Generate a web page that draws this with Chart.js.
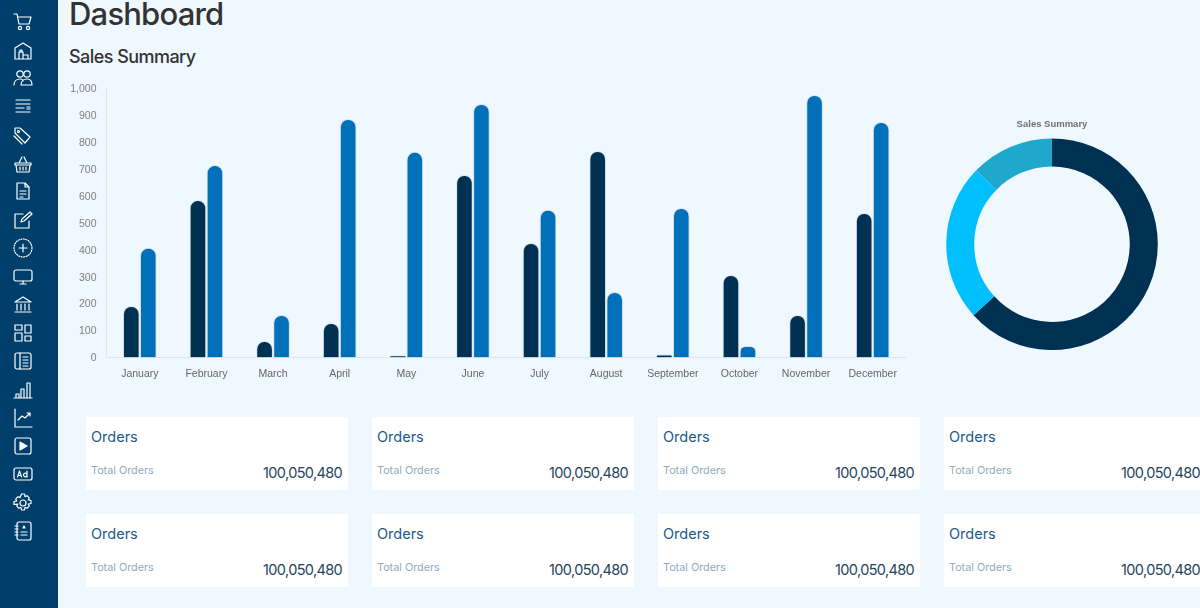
<!DOCTYPE html>
<html>
<head>
<meta charset="utf-8">
<title>Dashboard</title>
<script src="https://cdn.jsdelivr.net/npm/chart.js@4"></script>
<style>
  html, body { margin: 0; padding: 0; width: 1200px; height: 608px; overflow: hidden; background: #eff7ff; }
  body { position: relative; font-family: "Inter", "Noto Sans", sans-serif; }
  #sidebar { position: absolute; left: 0; top: 0; width: 58px; height: 608px; background: #003f6b; }
  #sidebar svg { position: absolute; left: 13px; width: 20px; height: 20px; fill: none; stroke: #fff; stroke-width: 1.2; stroke-linecap: round; stroke-linejoin: round; }
  h1 { position: absolute; left: 69px; top: -6px; margin: 0; font-size: 31px; line-height: 40px; font-weight: 500; letter-spacing: -0.8px; color: #333; }
  h2 { position: absolute; left: 69px; top: 45px; margin: 0; font-size: 18px; line-height: 24px; font-weight: 500; letter-spacing: -0.55px; color: #333; }
  canvas { position: absolute; }
  #barChart { left: 60px; top: 78px; }
  #donutChart { left: 942px; top: 112px; }
  .card { position: absolute; width: 262px; height: 73px; background: #fff; }
  .card .t { position: absolute; left: 5px; top: 11px; font-size: 14.5px; line-height: 18px; color: #1a5a8a; }
  .card .s { position: absolute; left: 5px; top: 46.500px; font-size: 10.8px; line-height: 14px; color: #8fabc2; }
  .card .n { position: absolute; right: 6px; top: 46px; font-size: 14.5px; line-height: 20px; letter-spacing: -0.65px; color: #24455e; }
</style>
</head>
<body>
<div id="sidebar"></div>
<h1>Dashboard</h1>
<h2>Sales Summary</h2>
<canvas id="barChart" width="846" height="310"></canvas>
<canvas id="donutChart" width="220" height="238"></canvas>
<div id="cards"></div>

<script>
// dados do gráfico
const months = ["January", "February", "March", "April", "May", "June", "July", "August", "September", "October", "November", "December"];
const seriesDark = [191, 584, 61, 128, 8, 677, 425, 766, 11, 306, 158, 536];
const seriesBlue = [407, 714, 158, 885, 763, 941, 548, 243, 555, 43, 974, 874];
const donutLabels = ["A", "B", "C"];
const donutValues = [63.3, 24, 12.7];
const donutColors = ["#003153", "#00bfff", "#1ea8cc"];

const cardLeft = [86, 372, 658, 944];
const cardTop = [417, 514];

// ícones da barra lateral
const icons = [
  '<path d="M1 2h3l2 10h10l2-7H5"/><circle cx="7" cy="16" r="1.6"/><circle cx="15" cy="16" r="1.6"/>',
  '<path d="M2 18V7l8-5 8 5v11zM6 18v-7h4v7M10 14h5v4"/><path d="M7 11V9h2v2"/>',
  '<circle cx="7" cy="6" r="3.2"/><circle cx="14" cy="6" r="3.2"/><path d="M1 17c0-4 3-6 6-6 2 0 3 1 3 2M8 17c0-4 3-6 6-6s5 2 5 6z"/>',
  '<path d="M3 4h14M3 8h14M3 12h8M3 16h14M14 11h3M14 13h3"/>',
  '<path d="M2 8V3h5l10 9-5 6zM1 11l8 8"/><circle cx="5.5" cy="6.5" r="1"/>',
  '<path d="M2 9h16v2H2zM3 11l1 7h12l1-7M6 9l3-6M14 9l-3-6M7 13v3M10 13v3M13 13v3"/>',
  '<path d="M4 2h8l4 4v12H4zM12 2v4h4M7 10h6M7 13h6M7 16h3"/>',
  '<path d="M16 11v7H2V4h8M8 12l1-3 8-7 2 2-8 7z"/>',
  '<circle cx="10" cy="10" r="9" stroke-dasharray="1 1.5"/><path d="M10 6v8M6 10h8"/>',
  '<rect x="1" y="3" width="18" height="11" rx="2"/><path d="M7 17h6M10 14v3"/>',
  '<path d="M2 7l8-5 8 5zM4 9v6M8 9v6M12 9v6M16 9v6M2 17h16"/>',
  '<rect x="2" y="2" width="7" height="5"/><rect x="12" y="2" width="6" height="8"/><rect x="2" y="10" width="7" height="8"/><rect x="12" y="13" width="6" height="5"/>',
  '<rect x="2" y="2" width="16" height="16" rx="2"/><path d="M7 2v16M10 6h5M10 9h5M10 12h5M10 15h5"/>',
  '<path d="M1 18h18M3 18v-4h3v4M8 18V9h3v9M14 18V3h3v15"/>',
  '<path d="M2 1v18h17M5 12l4-4 3 2 5-5M14 5h3v3"/>',
  '<rect x="2" y="2" width="16" height="16" rx="2"/><path d="M7 6l7 4-7 4z" fill="#fff"/>',
  '<rect x="1" y="4" width="18" height="12" rx="2"/><path d="M4.5 13l2-6 2 6M5.2 11.5h2.6M14 7v6M14 10.5a1.8 1.8 0 1 0 0 1" stroke-width="1.2"/>',
  '<circle cx="10" cy="10" r="3"/><path d="M8.5 1h3l.5 2.6 2-.9 2.2 2.2-1 2 2.8.6v3l-2.8.6 1 2-2.2 2.2-2-1-.5 2.7h-3l-.5-2.7-2 1-2.2-2.2 1-2L1 11.5v-3l2.8-.6-1-2L5 3.700l2 .9z"/>',
  '<rect x="4" y="1" width="14" height="18" rx="2"/><path d="M2 5h3M2 8h3M2 11h3M2 14h3M8 11h6M8 14h6"/><path d="M11 5l1 2h-2z" fill="#fff"/>'
];
const iconCenters = [22, 51, 78, 106, 135, 164, 191, 220, 248, 277, 305, 333, 361, 390, 418, 446, 474, 503, 531];

const sidebar = document.getElementById("sidebar");
icons.forEach((shape, i) => {
  sidebar.insertAdjacentHTML("beforeend",
    `<svg viewBox="0 0 20 20" style="top:${iconCenters[i] - 10}px">${shape}</svg>`);
});

// cartões
const cards = document.getElementById("cards");
cardTop.forEach((top) => {
  cardLeft.forEach((left) => {
    cards.insertAdjacentHTML("beforeend",
      `<div class="card" style="left:${left}px;top:${top}px">
         <div class="t">Orders</div>
         <div class="s">Total Orders</div>
         <div class="n">100,050,480</div>
       </div>`);
  });
});

Chart.defaults.font.family = '"Liberation Sans", Arial, sans-serif';
Chart.defaults.animation = false;

// gráfico de barras
new Chart(document.getElementById("barChart"), {
  type: "bar",
  data: {
    labels: months,
    datasets: [
      { label: "A", data: seriesDark, backgroundColor: "#003153", borderColor: "rgba(205,220,235,0.8)", borderWidth: 1, borderRadius: 8 },
      { label: "B", data: seriesBlue, backgroundColor: "#0070bb", borderColor: "rgba(205,220,235,0.8)", borderWidth: 1, borderRadius: 8 },
    ],
  },
  options: {
    responsive: false,
    categoryPercentage: 0.51,
    barPercentage: 0.98,
    layout: { padding: { top: 10, right: 0, left: 0, bottom: 0 } },
    plugins: { legend: { display: false }, title: { display: false }, tooltip: { enabled: false } },
    scales: {
      x: {
        grid: { display: false },
        border: { display: true, color: "#dde6ee" },
        ticks: { color: "#666", font: { size: 10.5 }, padding: 2, maxRotation: 0, autoSkip: false },
        afterFit(scale) { scale.height = 30.5; scale.paddingLeft = 0; scale.paddingRight = 0; },
      },
      y: {
        min: 0,
        max: 1000,
        grid: { display: false },
        border: { display: true, color: "#dde6ee" },
        ticks: { stepSize: 100, color: "#808080", font: { size: 10.5 }, padding: 2, labelOffset: 1 },
        afterFit(scale) { scale.width = 46.5; scale.paddingTop = 0; scale.paddingBottom = 0; },
      },
    },
  },
});

// gráfico de rosca
new Chart(document.getElementById("donutChart"), {
  type: "doughnut",
  data: {
    labels: donutLabels,
    datasets: [{ data: donutValues, backgroundColor: donutColors, borderWidth: 0 }],
  },
  options: {
    responsive: false,
    cutout: "73.500%",
    plugins: {
      legend: { display: false },
      tooltip: { enabled: false },
      title: { display: true, text: "Sales Summary", color: "#707070", font: { size: 9.5, weight: "bold" }, padding: { top: 7, bottom: 8 } },
    },
  },
});
</script>
</body>
</html>
